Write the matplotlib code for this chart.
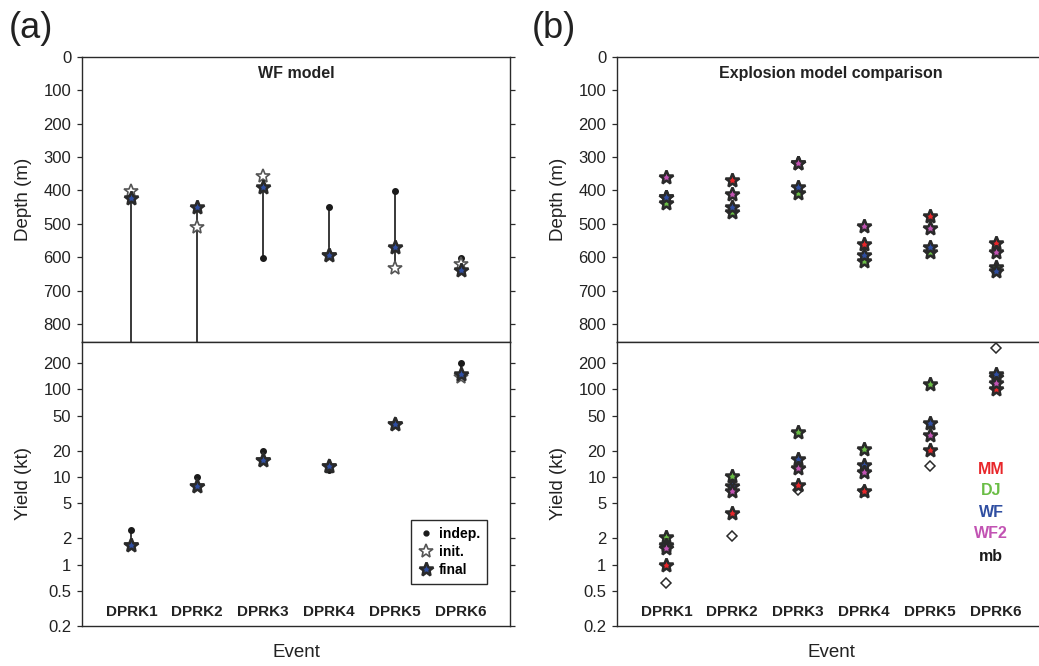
import numpy as np
import matplotlib
matplotlib.use('Agg')
import matplotlib.pyplot as plt
import matplotlib.ticker as ticker
import matplotlib.transforms as mtransforms
from matplotlib.lines import Line2D

plt.rcParams['font.family'] = ['Liberation Sans', 'DejaVu Sans']

events = ['DPRK1', 'DPRK2', 'DPRK3', 'DPRK4', 'DPRK5', 'DPRK6']
x = np.arange(1, len(events) + 1)

# (a) WF model: independent, initial and final estimates
# indep. depth of DPRK1/2 lies below the plotted range
wf_indep_depth = [950, 950, 602, 451, 401, 602]
wf_init_depth = [401, 509, 356, 593, 631, 621]
wf_final_depth = [422, 449, 391, 593, 571, 638]
wf_indep_yield = [2.5, 10.0, 19.8, 11.9, 40.7, 201]
wf_init_yield = [1.66, 7.9, 15.5, 13.3, 40.7, 137]
wf_final_yield = [1.66, 7.9, 15.5, 13.3, 40.7, 148]

# (b) explosion model comparison
mm_depth = [421, 369, 319, 562, 476, 559]
dj_depth = [439, 466, 407, 611, 584, 628]
wf_depth = [421, 449, 389, 593, 569, 640]
wf2_depth = [359, 411, 319, 507, 512, 584]
mm_yield = [0.98, 3.9, 8.2, 6.9, 20.5, 100]
dj_yield = [2.09, 10.4, 32.4, 20.7, 116, 140]
wf_yield = [1.69, 7.95, 16.2, 13.8, 41.4, 150]
wf2_yield = [1.55, 6.9, 12.6, 11.4, 30.2, 117]
mb_yield = [0.62, 2.11, 7.2, 7.0, 13.3, 294]

model_names = ['MM', 'DJ', 'WF', 'WF2']
model_colors = ['#e8262a', '#6abd45', '#2f4ea1', '#c253b3']

depth_ticks = np.arange(0, 900, 100)
yield_ticks = [0.2, 0.5, 1, 2, 5, 10, 20, 50, 100, 200]
yield_labels = ['0.2', '0.5', '1', '2', '5', '10', '20', '50', '100', '200']

W, H = 1039, 666
fig = plt.figure(figsize=(W / 100, H / 100), dpi=100)

ax_left = 82 / W
ax_right = 617 / W
ax_w = 428 / W
depth_bottom = (H - 341.7) / H
depth_h = 285 / H
yield_bottom = (H - 626) / H
yield_h = 284.3 / H

ink = '#2a2a2a'


def style(ax):
    for s in ax.spines.values():
        s.set_color(ink)
        s.set_linewidth(1.0)
    ax.set_xlim(0.25, 6.75)
    ax.set_xticks([])
    ax.tick_params(axis='y', which='both', left=True, right=True, direction='out',
                   length=3.8, width=0.9, color=ink, labelsize=12, labelcolor='#222',
                   pad=4)


def star(ax, xs, ys, fc, ec=ink, mew=1.8, ms=10.5, zorder=3):
    ax.plot(xs, ys, ls='none', marker='*', ms=ms, mfc=fc, mec=ec, mew=mew, zorder=zorder)


axes = {}
for col, left in enumerate([ax_left, ax_right]):
    ad = fig.add_axes([left, depth_bottom, ax_w, depth_h])
    ay = fig.add_axes([left, yield_bottom, ax_w, yield_h])
    for a in (ad, ay):
        style(a)
    ad.set_ylim(853, 0)
    ad.set_yticks(depth_ticks)
    ay.set_yscale('log')
    ay.set_ylim(0.2, 350)
    ay.yaxis.set_major_locator(ticker.FixedLocator(yield_ticks))
    ay.yaxis.set_major_formatter(ticker.FixedFormatter(yield_labels))
    ay.yaxis.set_minor_locator(ticker.NullLocator())
    ad.set_ylabel('Depth (m)', fontsize=13.5, color='#222')
    ay.set_ylabel('Yield (kt)', fontsize=13.5, color='#222')
    ad.yaxis.set_label_coords(-0.117, 0.5)
    ay.yaxis.set_label_coords(-0.117, 0.5)
    ay.set_xlabel('Event', fontsize=13.5, color='#222')
    ay.xaxis.set_label_coords(0.5, -0.065)
    trans = mtransforms.blended_transform_factory(ay.transData, ay.transAxes)
    for xi, name in zip(x, events):
        ay.text(xi, 0.05, name, transform=trans, ha='center', va='center',
                fontsize=11, fontweight='bold', color='#222')
    axes[col] = (ad, ay)

# ---- panel (a)
ad, ay = axes[0]
ad.set_title('WF model', fontsize=11.5, fontweight='bold', color='#222', y=0.895)
for xi, a, b, c in zip(x, wf_indep_depth, wf_init_depth, wf_final_depth):
    ad.plot([xi, xi], [min(a, b, c), max(a, b, c)], color=ink, lw=1.3, zorder=1)
for xi, a, b, c in zip(x, wf_indep_yield, wf_init_yield, wf_final_yield):
    ay.plot([xi, xi], [min(a, b, c), max(a, b, c)], color=ink, lw=1.3, zorder=1)
for a, indep, init, final in [(ad, wf_indep_depth, wf_init_depth, wf_final_depth),
                              (ay, wf_indep_yield, wf_init_yield, wf_final_yield)]:
    a.plot(x, indep, ls='none', marker='o', ms=4, color='#1a1a1a', zorder=2)
    star(a, x, init, 'white', ec='#555', mew=1.2)
    star(a, x, final, '#2f4ea1')

handles = [
    Line2D([], [], ls='none', marker='o', ms=3.5, color='#1a1a1a'),
    Line2D([], [], ls='none', marker='*', ms=10, mfc='white', mec='#555', mew=1.2),
    Line2D([], [], ls='none', marker='*', ms=10, mfc='#2f4ea1', mec=ink, mew=1.8),
]
leg = ay.legend(handles, ['indep.', 'init.', 'final'], loc='lower right',
                bbox_to_anchor=(0.946, 0.148), fancybox=False, framealpha=1,
                edgecolor=ink, prop={'weight': 'bold', 'size': 10},
                labelspacing=0.3, handletextpad=0.3, handlelength=1.2,
                borderpad=0.5, borderaxespad=0)
leg.get_frame().set_linewidth(1.0)

# ---- panel (b)
ad, ay = axes[1]
ad.set_title('Explosion model comparison', fontsize=11.5, fontweight='bold',
             color='#222', y=0.895)
ay.plot(x, mb_yield, ls='none', marker='D', ms=5, mfc='white', mec=ink, mew=1.1, zorder=2)
depths = [mm_depth, dj_depth, wf_depth, wf2_depth]
yields = [mm_yield, dj_yield, wf_yield, wf2_yield]
for d, yv, c in zip(depths, yields, model_colors):
    star(ad, x, d, c)
    star(ay, x, yv, c)

trans = mtransforms.blended_transform_factory(ay.transData, ay.transAxes)
label_y = [0.549, 0.476, 0.399, 0.326, 0.246]
for name, c, ly in zip(model_names + ['mb'], model_colors + ['#1a1a1a'], label_y):
    ay.text(5.93, ly, name, transform=trans, ha='center', va='center',
            fontsize=11.5, fontweight='bold', color=c)

fig.text(9 / W, 1 - 11 / H, '(a)', fontsize=26, va='top', ha='left', color='#222')
fig.text(532 / W, 1 - 11 / H, '(b)', fontsize=26, va='top', ha='left', color='#222')

fig.savefig('out.png', dpi=100)
